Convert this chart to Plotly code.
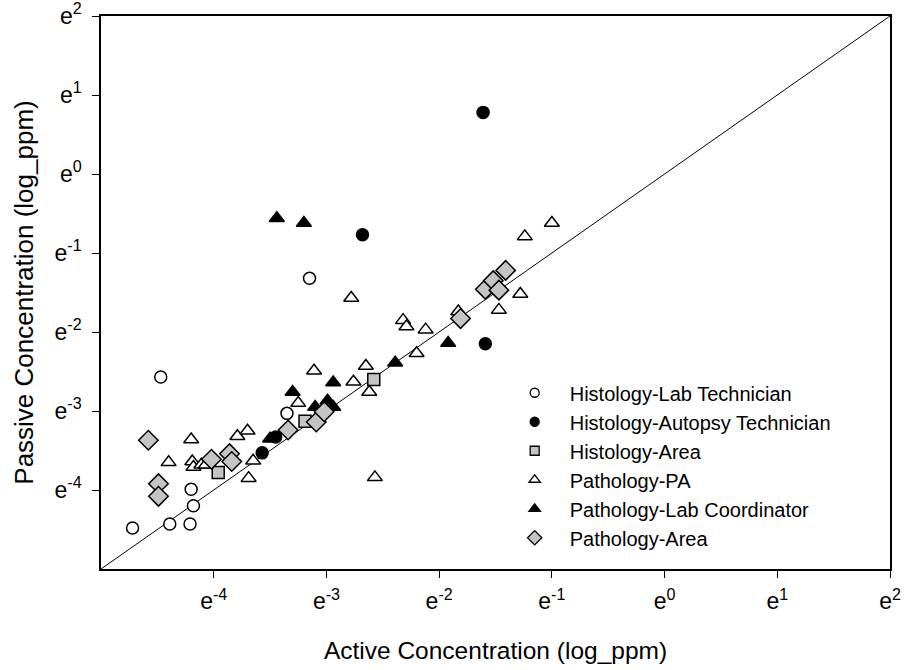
import plotly.graph_objects as go

# values are natural-log concentrations (ln ppm)
lab_tech_x = [-4.47, -4.72, -4.39, -4.21, -4.18, -4.20, -3.35, -3.15]
lab_tech_y = [-2.57, -4.48, -4.43, -4.43, -4.20, -3.99, -3.03, -1.32]

autopsy_x = [-3.57, -3.45, -2.68, -1.59, -1.61]
autopsy_y = [-3.53, -3.33, -0.77, -2.15, 0.78]

hist_area_x = [-3.96, -3.19, -2.58]
hist_area_y = [-3.78, -3.13, -2.60]

pa_x = [-4.40, -4.20, -4.19, -4.18, -4.11, -4.07, -3.79, -3.70, -3.65, -3.69,
        -3.25, -3.11, -2.76, -2.65, -2.62, -2.57, -2.20, -2.78, -2.32, -2.29,
        -2.12, -1.83, -1.47, -1.28, -1.24, -1.00]
pa_y = [-3.65, -3.36, -3.64, -3.71, -3.68, -3.68, -3.32, -3.25, -3.63, -3.85,
        -2.90, -2.49, -2.63, -2.43, -2.76, -3.84, -2.27, -1.57, -1.85, -1.93,
        -1.97, -1.74, -1.72, -1.52, -0.79, -0.62]

coord_x = [-3.30, -2.94, -2.39, -3.10, -2.99, -2.94, -3.50, -3.44, -3.20, -1.92]
coord_y = [-2.76, -2.64, -2.39, -2.95, -2.87, -2.95, -3.35, -0.56, -0.62, -2.14]

path_area_x = [-4.58, -4.49, -4.49, -4.02, -3.86, -3.84, -3.34, -3.09, -3.02,
               -1.81, -1.59, -1.52, -1.47, -1.41]
path_area_y = [-3.37, -3.92, -4.08, -3.61, -3.54, -3.64, -3.24, -3.14, -3.01,
               -1.83, -1.46, -1.35, -1.47, -1.22]

axis_min, axis_max = -5, 2
tick_vals = [-4, -3, -2, -1, 0, 1, 2]
tick_text = ["e<sup>%d</sup>" % v for v in tick_vals]

GRAY = "#c4c4c4"
LW = 1.5
FONT = "Liberation Sans, Arial, sans-serif"

fig = go.Figure()
fig.add_trace(go.Scatter(x=[axis_min, axis_max], y=[axis_min, axis_max], mode="lines",
                         line=dict(color="black", width=1), showlegend=False, hoverinfo="skip"))

series = [
    ("Histology-Lab Technician", lab_tech_x, lab_tech_y, "circle", "white", 12, 9),
    ("Histology-Autopsy Technician", autopsy_x, autopsy_y, "circle", "black", 12, 9),
    ("Histology-Area", hist_area_x, hist_area_y, "square", GRAY, 12, 9),
    ("Pathology-PA", pa_x, pa_y, "triangle-up", "white", 13, 10),
    ("Pathology-Lab Coordinator", coord_x, coord_y, "triangle-up", "black", 13, 10),
    ("Pathology-Area", path_area_x, path_area_y, "diamond", GRAY, 15, 11),
]
for name, xs, ys, sym, fill, size, lsize in series:
    fig.add_trace(go.Scatter(x=xs, y=ys, mode="markers", name=name, showlegend=False,
                             marker=dict(symbol=sym, color=fill, size=size,
                                         line=dict(color="black", width=LW))))
# legend entries with small symbols
for name, xs, ys, sym, fill, size, lsize in series:
    fig.add_trace(go.Scatter(x=[None], y=[None], mode="markers", name=name,
                             marker=dict(symbol=sym, color=fill, size=lsize,
                                         line=dict(color="black", width=1.3))))

axis_common = dict(range=[axis_min, axis_max], tickmode="array", tickvals=tick_vals,
                   ticktext=tick_text, ticks="outside", ticklen=7, tickwidth=1.2,
                   tickcolor="black", showline=True, linecolor="black", linewidth=1.5,
                   mirror=True, showgrid=False, zeroline=False, automargin=False,
                   ticklabeloverflow="allow",
                   tickfont=dict(size=23, color="black", family=FONT))

fig.update_layout(
    width=905, height=670,
    margin=dict(l=100.5, r=14.5, t=16, b=101),
    plot_bgcolor="white", paper_bgcolor="white",
    font=dict(family=FONT, color="black"),
    xaxis=dict(**axis_common, ticklabelstandoff=4,
               title=dict(text="Active Concentration (log_ppm)",
                          font=dict(size=24.5, color="black", family=FONT), standoff=29)),
    yaxis=dict(**axis_common, ticklabelstandoff=6,
               title=dict(text="Passive Concentration (log_ppm)",
                          font=dict(size=26, color="black", family=FONT), standoff=13)),
    legend=dict(x=0.5053, y=0.354, xanchor="left", yanchor="top",
                font=dict(size=20, color="black", family=FONT), itemwidth=60,
                bgcolor="rgba(0,0,0,0)", borderwidth=0),
)

fig.write_html("out.html", config={"displayModeBar": False},
               post_script="document.body.style.margin='0px';document.body.style.overflow='hidden';")
